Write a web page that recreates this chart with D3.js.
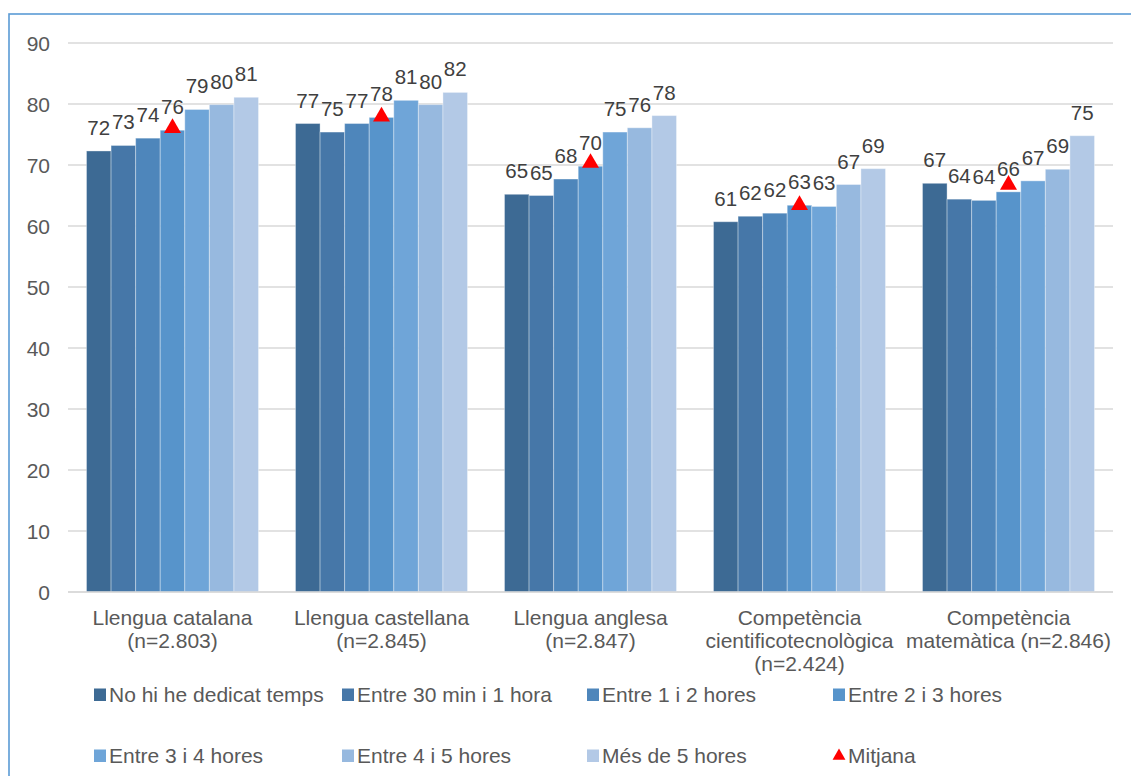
<!DOCTYPE html>
<html>
<head>
<meta charset="utf-8">
<script src="https://cdn.jsdelivr.net/npm/d3@7"></script>
<style>
  html, body { margin: 0; padding: 0; background: #fff; }
  svg { display: block; font-family: "Liberation Sans", Arial, sans-serif; }
</style>
</head>
<body>
<svg id="chart" width="1131" height="776"></svg>
<script>
const categories = [
  ["Llengua catalana", "(n=2.803)"],
  ["Llengua castellana", "(n=2.845)"],
  ["Llengua anglesa", "(n=2.847)"],
  ["Competència", "cientificotecnològica", "(n=2.424)"],
  ["Competència", "matemàtica (n=2.846)"]
];
const seriesNames = [
  "No hi he dedicat temps",
  "Entre 30 min i 1 hora",
  "Entre 1 i 2 hores",
  "Entre 2 i 3 hores",
  "Entre 3 i 4 hores",
  "Entre 4 i 5 hores",
  "Més de 5 hores"
];
// values[category][series]
const values = [
  [72.3, 73.2, 74.4, 75.7, 79.1, 79.9, 81.1],
  [76.8, 75.4, 76.8, 77.8, 80.6, 79.9, 81.9],
  [65.2, 65.0, 67.7, 69.8, 75.4, 76.1, 78.1],
  [60.7, 61.6, 62.1, 63.4, 63.2, 66.8, 69.4],
  [67.0, 64.4, 64.2, 65.6, 67.4, 69.3, 74.8]
];
const means = [76.2, 78.1, 70.5, 63.6, 66.9];
const meanName = "Mitjana";
const yTicks = [0, 10, 20, 30, 40, 50, 60, 70, 80, 90];
const colors = ["#3d6a94", "#4677a8", "#4e86bb", "#5794cb", "#6fa5d8", "#97b9df", "#b3c9e6"];

const svg = d3.select("#chart");
const plotLeft = 68, plotRight = 1113, plotTop = 43, plotBottom = 592;

// frame
svg.append("rect").attr("x", 9).attr("y", 14).attr("width", 1140).attr("height", 780)
  .attr("fill", "none").attr("stroke", "#5b9bd5").attr("stroke-width", 1.6);

const y = d3.scaleLinear().domain([0, 90]).range([plotBottom, plotTop]);
const x0 = d3.scaleBand().domain(d3.range(categories.length)).range([plotLeft, plotRight])
  .paddingInner(0.177).paddingOuter(0.0885);
const x1 = d3.scaleBand().domain(d3.range(seriesNames.length)).range([0, x0.bandwidth()]).padding(0);

// gridlines
svg.append("g").selectAll("line").data(yTicks).join("line")
  .attr("x1", plotLeft).attr("x2", plotRight)
  .attr("y1", d => y(d)).attr("y2", d => y(d))
  .attr("stroke", "#d9d9d9").attr("stroke-width", 1.5);

// y axis labels
const yAxis = d3.axisLeft(y).tickValues(yTicks).tickSize(0).tickPadding(0);
const gy = svg.append("g").attr("transform", "translate(50,0)").call(yAxis);
gy.select(".domain").remove();
gy.selectAll("text").attr("font-size", 21).attr("fill", "#595959")
  .attr("font-family", "Liberation Sans, Arial, sans-serif").attr("dy", "0.35em");

// bars
const groups = svg.append("g").selectAll("g").data(values).join("g")
  .attr("transform", (d, i) => `translate(${x0(i)},0)`);
groups.selectAll("rect").data(d => d).join("rect")
  .attr("x", (d, j) => x1(j)).attr("width", x1.bandwidth())
  .attr("y", d => y(d)).attr("height", d => y(0) - y(d))
  .attr("fill", (d, j) => colors[j])
  .attr("stroke", "#ffffff").attr("stroke-opacity", 0.35).attr("stroke-width", 1);

// x axis line
svg.append("line").attr("x1", plotLeft).attr("x2", plotRight).attr("y1", y(0)).attr("y2", y(0))
  .attr("stroke", "#d9d9d9").attr("stroke-width", 1.5);

// data labels
groups.selectAll("text").data(d => d).join("text")
  .attr("x", (d, j) => x1(j) + x1.bandwidth() / 2)
  .attr("y", d => y(d) - 16)
  .attr("text-anchor", "middle").attr("font-size", 20.5).attr("fill", "#404040")
  .text(d => d3.format(".0f")(d));

// mean markers
const tri = d3.symbol().type(d3.symbolTriangle).size(125);
svg.append("g").selectAll("path").data(means).join("path")
  .attr("d", tri)
  .attr("transform", (d, i) => `translate(${x0(i) + x0.bandwidth() / 2},${y(d) + 1})`)
  .attr("fill", "#ff0000");

// category labels
const cat = svg.append("g").selectAll("text").data(categories).join("text")
  .attr("x", (d, i) => x0(i) + x0.bandwidth() / 2)
  .attr("y", 625)
  .attr("text-anchor", "middle").attr("font-size", 21).attr("fill", "#595959");
cat.selectAll("tspan").data(d => d).join("tspan")
  .attr("x", function () { return this.parentNode.getAttribute("x"); })
  .attr("dy", (d, k) => k === 0 ? 0 : 23)
  .text(d => d);

// legend
const legendItems = seriesNames.map((n, i) => ({ name: n, color: colors[i], type: "rect" }))
  .concat([{ name: meanName, color: "#ff0000", type: "tri" }]);
const colX = [94, 342, 587, 833];
const rowY = [695, 756];
const lg = svg.append("g").selectAll("g").data(legendItems).join("g")
  .attr("transform", (d, i) => `translate(${colX[i % 4]},${rowY[Math.floor(i / 4)]})`);
lg.filter(d => d.type === "rect").append("rect")
  .attr("x", 0).attr("y", -6.5).attr("width", 12).attr("height", 12.5).attr("fill", d => d.color);
lg.filter(d => d.type === "tri").append("path")
  .attr("d", d3.symbol().type(d3.symbolTriangle).size(72))
  .attr("transform", "translate(6,0)").attr("fill", "#ff0000");
lg.append("text").attr("x", 15).attr("y", 0).attr("dy", "0.35em")
  .attr("font-size", 21).attr("fill", "#595959").text(d => d.name);
</script>
</body>
</html>
